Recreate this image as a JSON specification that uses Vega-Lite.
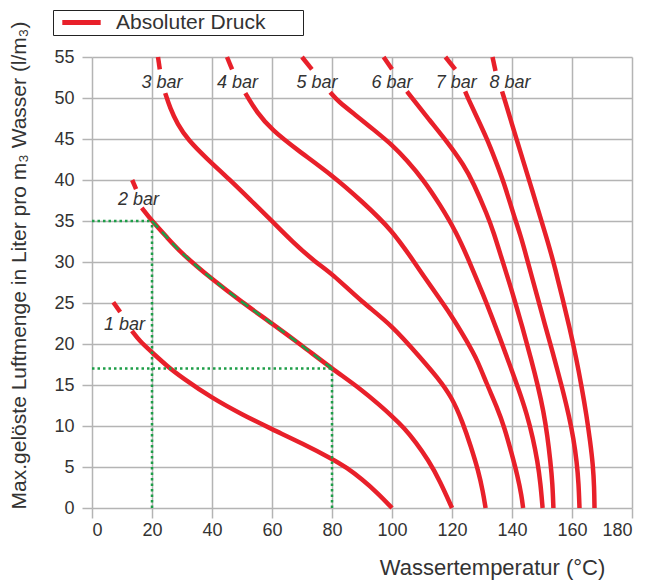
{
  "$schema": "https://vega.github.io/schema/vega-lite/v6.json",
  "width": 540,
  "height": 451,
  "autosize": {"type": "none"},
  "padding": {"left": 92, "top": 57, "right": 14, "bottom": 73},
  "background": "white",
  "config": {
    "font": "Liberation Sans",
    "view": {"stroke": null},
    "axis": {
      "grid": true,
      "gridColor": "#b4b4b4",
      "gridWidth": 1.5,
      "domain": false,
      "ticks": true,
      "tickColor": "#b4b4b4",
      "tickWidth": 1.5,
      "tickSize": 10,
      "labelFontSize": 18,
      "labelColor": "#333333",
      "titleFontSize": 21,
      "titleFontWeight": "normal",
      "titleColor": "#333333"
    }
  },
  "datasets": {
    "curves": [
      {"s": "1a", "x": 7.1, "y": 25.1}, {"s": "1a", "x": 9.4, "y": 23.9},
      {"s": "1b", "x": 13.3, "y": 21.6}, {"s": "1b", "x": 16, "y": 20.3}, {"s": "1b", "x": 20, "y": 19.0}, {"s": "1b", "x": 25, "y": 17.3}, {"s": "1b", "x": 30, "y": 15.9}, {"s": "1b", "x": 40, "y": 13.4}, {"s": "1b", "x": 50, "y": 11.4}, {"s": "1b", "x": 60, "y": 9.6}, {"s": "1b", "x": 70, "y": 7.9}, {"s": "1b", "x": 80, "y": 6.0}, {"s": "1b", "x": 85, "y": 4.9}, {"s": "1b", "x": 90, "y": 3.5}, {"s": "1b", "x": 95, "y": 1.9}, {"s": "1b", "x": 100, "y": 0},
      {"s": "2a", "x": 13.4, "y": 40.0}, {"s": "2a", "x": 14.7, "y": 38.9},
      {"s": "2b", "x": 16.6, "y": 36.6}, {"s": "2b", "x": 20, "y": 35}, {"s": "2b", "x": 25, "y": 33.0}, {"s": "2b", "x": 30, "y": 31.0}, {"s": "2b", "x": 40, "y": 27.9}, {"s": "2b", "x": 50, "y": 25.1}, {"s": "2b", "x": 60, "y": 22.5}, {"s": "2b", "x": 70, "y": 19.8}, {"s": "2b", "x": 80, "y": 17.0}, {"s": "2b", "x": 90, "y": 14.4}, {"s": "2b", "x": 96, "y": 12.5}, {"s": "2b", "x": 100, "y": 11.2}, {"s": "2b", "x": 104, "y": 9.8}, {"s": "2b", "x": 108, "y": 8.0}, {"s": "2b", "x": 112, "y": 5.9}, {"s": "2b", "x": 116, "y": 3.3}, {"s": "2b", "x": 120, "y": 0},
      {"s": "3a", "x": 22.0, "y": 55}, {"s": "3a", "x": 22.6, "y": 53.5},
      {"s": "3b", "x": 24.4, "y": 50.6}, {"s": "3b", "x": 26, "y": 48.8}, {"s": "3b", "x": 28.5, "y": 46.8}, {"s": "3b", "x": 32, "y": 44.9}, {"s": "3b", "x": 38, "y": 42.7}, {"s": "3b", "x": 46, "y": 40}, {"s": "3b", "x": 53, "y": 37.5}, {"s": "3b", "x": 60, "y": 35}, {"s": "3b", "x": 67, "y": 32.4}, {"s": "3b", "x": 74.4, "y": 30}, {"s": "3b", "x": 80, "y": 28.6}, {"s": "3b", "x": 90, "y": 25.1}, {"s": "3b", "x": 100, "y": 22.3}, {"s": "3b", "x": 110, "y": 18.1}, {"s": "3b", "x": 115, "y": 16}, {"s": "3b", "x": 120, "y": 13.5}, {"s": "3b", "x": 123.5, "y": 10.5}, {"s": "3b", "x": 126.3, "y": 7.5}, {"s": "3b", "x": 128.8, "y": 4.5}, {"s": "3b", "x": 130.3, "y": 2}, {"s": "3b", "x": 131.2, "y": 0},
      {"s": "4a", "x": 45, "y": 55}, {"s": "4a", "x": 46.7, "y": 53.5},
      {"s": "4b", "x": 51.1, "y": 50.6}, {"s": "4b", "x": 55, "y": 48.2}, {"s": "4b", "x": 60, "y": 46.1}, {"s": "4b", "x": 68.3, "y": 43.7}, {"s": "4b", "x": 80, "y": 40.6}, {"s": "4b", "x": 90, "y": 37.4}, {"s": "4b", "x": 100, "y": 33.9}, {"s": "4b", "x": 107.2, "y": 30.1}, {"s": "4b", "x": 113, "y": 27}, {"s": "4b", "x": 120, "y": 23.4}, {"s": "4b", "x": 125, "y": 20.3}, {"s": "4b", "x": 128.5, "y": 18}, {"s": "4b", "x": 131.5, "y": 15.2}, {"s": "4b", "x": 135, "y": 12.3}, {"s": "4b", "x": 137.5, "y": 9.8}, {"s": "4b", "x": 140, "y": 6.5}, {"s": "4b", "x": 141.8, "y": 4}, {"s": "4b", "x": 143.2, "y": 1.5}, {"s": "4b", "x": 143.7, "y": 0},
      {"s": "5a", "x": 70, "y": 55}, {"s": "5a", "x": 73.3, "y": 53.5},
      {"s": "5b", "x": 79.4, "y": 50.7}, {"s": "5b", "x": 82, "y": 49.6}, {"s": "5b", "x": 88.3, "y": 47.8}, {"s": "5b", "x": 94, "y": 46.1}, {"s": "5b", "x": 100, "y": 44.3}, {"s": "5b", "x": 105, "y": 42.4}, {"s": "5b", "x": 110.5, "y": 40}, {"s": "5b", "x": 116, "y": 37}, {"s": "5b", "x": 121.5, "y": 33.6}, {"s": "5b", "x": 126.1, "y": 29.8}, {"s": "5b", "x": 130.5, "y": 25.9}, {"s": "5b", "x": 133.2, "y": 23.4}, {"s": "5b", "x": 136, "y": 20.7}, {"s": "5b", "x": 139, "y": 17.7}, {"s": "5b", "x": 142.3, "y": 14.4}, {"s": "5b", "x": 145, "y": 11.4}, {"s": "5b", "x": 147, "y": 8.5}, {"s": "5b", "x": 148.5, "y": 5.7}, {"s": "5b", "x": 149.5, "y": 3}, {"s": "5b", "x": 150.2, "y": 0},
      {"s": "6a", "x": 97.2, "y": 55}, {"s": "6a", "x": 100, "y": 53.5},
      {"s": "6b", "x": 105, "y": 50.8}, {"s": "6b", "x": 106.7, "y": 50}, {"s": "6b", "x": 112.5, "y": 47.3}, {"s": "6b", "x": 118.3, "y": 44.7}, {"s": "6b", "x": 124, "y": 41.8}, {"s": "6b", "x": 127.2, "y": 39.6}, {"s": "6b", "x": 131.7, "y": 35.8}, {"s": "6b", "x": 133.9, "y": 33.6}, {"s": "6b", "x": 136.5, "y": 30.5}, {"s": "6b", "x": 140.3, "y": 26.1}, {"s": "6b", "x": 143.5, "y": 22}, {"s": "6b", "x": 146.5, "y": 18}, {"s": "6b", "x": 148.7, "y": 14.8}, {"s": "6b", "x": 150.5, "y": 11.8}, {"s": "6b", "x": 151.8, "y": 8.8}, {"s": "6b", "x": 152.8, "y": 5.7}, {"s": "6b", "x": 153.5, "y": 3}, {"s": "6b", "x": 153.8, "y": 0},
      {"s": "7a", "x": 117.8, "y": 55}, {"s": "7a", "x": 121.1, "y": 53.5},
      {"s": "7b", "x": 124.4, "y": 50.8}, {"s": "7b", "x": 125.3, "y": 50}, {"s": "7b", "x": 128.5, "y": 47.5}, {"s": "7b", "x": 131.7, "y": 45}, {"s": "7b", "x": 134.5, "y": 42.4}, {"s": "7b", "x": 137.2, "y": 39.8}, {"s": "7b", "x": 140.5, "y": 35.8}, {"s": "7b", "x": 142.8, "y": 33.3}, {"s": "7b", "x": 144.7, "y": 30.8}, {"s": "7b", "x": 146.6, "y": 28.2}, {"s": "7b", "x": 148.6, "y": 25.6}, {"s": "7b", "x": 151, "y": 22.3}, {"s": "7b", "x": 153.1, "y": 19.6}, {"s": "7b", "x": 155, "y": 17}, {"s": "7b", "x": 157.2, "y": 14}, {"s": "7b", "x": 159, "y": 11.2}, {"s": "7b", "x": 160.5, "y": 8.5}, {"s": "7b", "x": 161.6, "y": 5.6}, {"s": "7b", "x": 162.2, "y": 3}, {"s": "7b", "x": 162.5, "y": 0},
      {"s": "8a", "x": 133.5, "y": 55}, {"s": "8a", "x": 134.5, "y": 53.3},
      {"s": "8b", "x": 136.7, "y": 50.8}, {"s": "8b", "x": 137.8, "y": 49.5}, {"s": "8b", "x": 140, "y": 46.8}, {"s": "8b", "x": 142, "y": 44.4}, {"s": "8b", "x": 144, "y": 42}, {"s": "8b", "x": 146.2, "y": 39.4}, {"s": "8b", "x": 148.4, "y": 36.7}, {"s": "8b", "x": 150.4, "y": 34.3}, {"s": "8b", "x": 152.3, "y": 32}, {"s": "8b", "x": 154.4, "y": 29.2}, {"s": "8b", "x": 156.8, "y": 25.6}, {"s": "8b", "x": 159.2, "y": 22}, {"s": "8b", "x": 161.4, "y": 18.3}, {"s": "8b", "x": 163.2, "y": 14.8}, {"s": "8b", "x": 164.8, "y": 11.4}, {"s": "8b", "x": 166.1, "y": 8}, {"s": "8b", "x": 167, "y": 5.2}, {"s": "8b", "x": 167.4, "y": 2.5}, {"s": "8b", "x": 167.5, "y": 0}
    ],
    "guides": [
      {"s": "h35", "x": 0, "y": 35}, {"s": "h35", "x": 20, "y": 35},
      {"s": "v20", "x": 20, "y": 0}, {"s": "v20", "x": 20, "y": 35},
      {"s": "h17", "x": 0, "y": 17}, {"s": "h17", "x": 80, "y": 17},
      {"s": "v80", "x": 80, "y": 0}, {"s": "v80", "x": 80, "y": 17}
    ],
    "overlay": [
      {"x": 20, "y": 35}, {"x": 25, "y": 33.0}, {"x": 30, "y": 31.0}, {"x": 40, "y": 27.9}, {"x": 50, "y": 25.1}, {"x": 60, "y": 22.5}, {"x": 70, "y": 19.8}, {"x": 80, "y": 17.0}
    ],
    "labels": [
      {"t": "1 bar", "x": 10.8, "y": 21.7},
      {"t": "2 bar", "x": 15.5, "y": 37.0},
      {"t": "3 bar", "x": 23.3, "y": 51.2},
      {"t": "4 bar", "x": 48.5, "y": 51.2},
      {"t": "5 bar", "x": 75.0, "y": 51.2},
      {"t": "6 bar", "x": 100.0, "y": 51.2},
      {"t": "7 bar", "x": 121.4, "y": 51.2},
      {"t": "8 bar", "x": 139.3, "y": 51.2}
    ]
  },
  "encoding": {
    "x": {
      "field": "x", "type": "quantitative",
      "scale": {"domain": [0, 180], "nice": false, "zero": false},
      "axis": {
        "values": [0, 20, 40, 60, 80, 100, 120, 140, 160, 180],
        "title": "Wassertemperatur (°C)",
        "titleFontSize": 22,
        "labelPadding": 3,
        "titlePadding": 18,
        "titleX": 400,
        "titleAlign": "center"
      }
    },
    "y": {
      "field": "y", "type": "quantitative",
      "scale": {"domain": [0, 55], "nice": false, "zero": false},
      "axis": {
        "values": [0, 5, 10, 15, 20, 25, 30, 35, 40, 45, 50, 55],
        "title": "Max.gelöste Luftmenge in Liter pro m₃ Wasser (l/m₃)",
        "labelPadding": 8,
        "titlePadding": 24,
        "titleY": 208
      }
    }
  },
  "layer": [
    {
      "data": {"name": "curves"},
      "mark": {"type": "line", "strokeWidth": 4.5, "interpolate": "basis", "strokeCap": "butt"},
      "encoding": {
        "detail": {"field": "s"},
        "order": {"field": "y", "sort": "descending"},
        "color": {
          "datum": "Absoluter Druck",
          "scale": {"range": ["#e8202a"]},
          "legend": {
            "title": null,
            "orient": "none",
            "legendX": -39,
            "legendY": -47,
            "direction": "horizontal",
            "strokeColor": "#222222",
            "fillColor": "white",
            "padding": 2,
            "symbolType": "M-2.4,0L2.4,0",
            "symbolSize": 256,
            "symbolStrokeWidth": 5,
            "symbolOffset": 16,
            "labelFontSize": 21,
            "labelColor": "#333333",
            "labelOffset": 24,
            "labelLimit": 400,
            "labelExpr": "datum.label + '\u00a0\u00a0\u00a0\u00a0\u00a0\u00a0\u200b'"
          }
        }
      }
    },
    {
      "data": {"name": "guides"},
      "mark": {"type": "line", "color": "#1e9e48", "strokeWidth": 2.5, "strokeDash": [2.5, 3]},
      "encoding": {"detail": {"field": "s"}}
    },
    {
      "data": {"name": "overlay"},
      "mark": {"type": "line", "color": "#1e9e48", "strokeWidth": 2.5, "strokeDash": [9, 6], "interpolate": "basis"},
      "encoding": {}
    },
    {
      "data": {"name": "labels"},
      "mark": {"type": "text", "fontSize": 18, "fontStyle": "italic", "color": "#333333", "align": "center", "baseline": "alphabetic"},
      "encoding": {"text": {"field": "t"}}
    }
  ]
}
